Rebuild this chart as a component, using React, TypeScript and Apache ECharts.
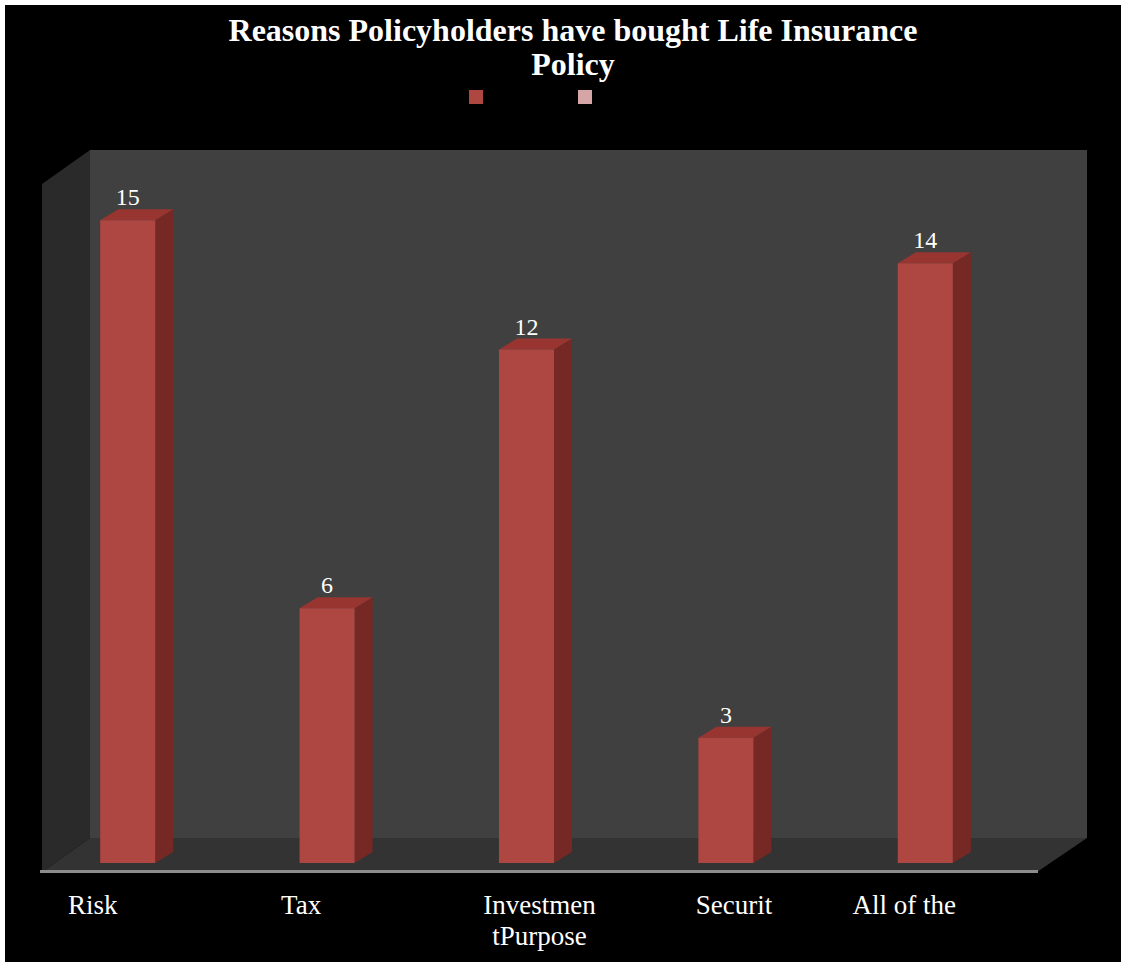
import React, { useEffect, useRef } from "react";
import * as echarts from "echarts";

// ---- data ----
const categories: string[] = ["Risk", "Tax", "Investmen\ntPurpose", "Securit", "All of the"];
const series1Values: number[] = [15, 6, 12, 3, 14];
const series2Values: number[] = [];
const seriesNames: string[] = ["Series1", "Series2"];
const titleText = "Reasons Policyholders have bought Life Insurance\nPolicy";

// ---- styles ----
const FRONT = "#ae4642";
const TOP = "#983531";
const SIDE = "#762824";
const LEGEND2 = "#d6a5a5";
const SERIF = '"Liberation Serif", "Times New Roman", serif';
// horizontal nudge of each category label (padding [t, r, b, l])
const LABEL_PAD: number[][] = [
  [0, 70, 0, 0],
  [0, 52, 0, 0],
  [0, 0, 0, 26],
  [0, 0, 0, 16],
  [0, 42, 0, 0],
];

export default function App() {
  const ref = useRef<HTMLDivElement>(null);
  useEffect(() => {
    if (!ref.current) return;
    const chart = echarts.init(ref.current, null, { renderer: "svg" });
    const option: any = {
      animation: false,
      backgroundColor: "#ffffff",
      title: {
        text: titleText,
        left: 573,
        top: 13,
        padding: 0,
        textAlign: "center",
        textStyle: {
          color: "#ffffff",
          fontFamily: SERIF,
          fontWeight: "bold",
          fontSize: 32,
          lineHeight: 34,
        },
      },
      legend: {
        data: seriesNames,
        left: 469,
        top: 90,
        padding: 0,
        itemWidth: 14,
        itemHeight: 14,
        itemGap: 95,
        icon: "rect",
        formatter: () => "",
        textStyle: { color: "#ffffff", fontSize: 12 },
      },
      graphic: [
        { type: "rect", z: -10, shape: { x: 5, y: 5, width: 1116, height: 957 }, style: { fill: "#000000" } },
        { type: "rect", z: -9, shape: { x: 90, y: 150, width: 997, height: 688 }, style: { fill: "#404040" } },
        {
          type: "polygon",
          z: -9,
          shape: { points: [[42, 184], [90, 150], [90, 838], [42, 872]] },
          style: { fill: "#2a2a2a" },
        },
        {
          type: "polygon",
          z: -9,
          shape: { points: [[42, 872], [90, 838], [1087, 838], [1037, 872]] },
          style: { fill: "#333333" },
        },
        { type: "rect", z: -8, shape: { x: 40, y: 870, width: 998, height: 3 }, style: { fill: "#8c8c8c" } },
      ],
      grid: { left: 28, right: 96, top: 177, bottom: 95, containLabel: false },
      xAxis: {
        type: "category",
        data: categories.map((c, i) => ({
          value: c,
          textStyle: { padding: LABEL_PAD[i] },
        })),
        axisLine: { show: false },
        axisTick: { show: false },
        splitLine: { show: false },
        axisLabel: {
          color: "#ffffff",
          fontFamily: SERIF,
          fontSize: 27,
          lineHeight: 31,
          margin: 22,
          interval: 0,
          verticalAlign: "top",
        },
      },
      yAxis: {
        type: "value",
        min: 0,
        max: 16,
        show: false,
        splitLine: { show: false },
      },
      series: [
        {
          name: seriesNames[0],
          type: "custom",
          itemStyle: { color: FRONT },
          encode: { x: 0, y: 1 },
          data: series1Values.map((v, i) => [i, v]),
          renderItem: (params: any, api: any) => {
            const idx = api.value(0);
            const val = api.value(1);
            const top = api.coord([idx, val]);
            const base = api.coord([idx, 0]);
            const bw = api.size([1, 0])[0] * 0.276;
            const dx = 18;
            const dy = 11;
            const x0 = top[0] - bw / 2;
            const x1 = top[0] + bw / 2;
            const yT = top[1];
            const yB = base[1] - 4;
            return {
              type: "group",
              children: [
                {
                  type: "polygon",
                  shape: { points: [[x1, yT], [x1 + dx, yT - dy], [x1 + dx, yB - dy], [x1, yB]] },
                  style: { fill: SIDE },
                },
                {
                  type: "polygon",
                  shape: { points: [[x0, yT], [x0 + dx, yT - dy], [x1 + dx, yT - dy], [x1, yT]] },
                  style: { fill: TOP },
                },
                {
                  type: "rect",
                  shape: { x: x0, y: yT, width: bw, height: yB - yT },
                  style: { fill: FRONT },
                },
                {
                  type: "text",
                  style: {
                    text: String(val),
                    x: top[0],
                    y: yT - 11,
                    align: "center",
                    verticalAlign: "bottom",
                    fill: "#ffffff",
                    fontFamily: SERIF,
                    fontSize: 24,
                  },
                },
              ],
            };
          },
        },
        {
          name: seriesNames[1],
          type: "bar",
          itemStyle: { color: LEGEND2 },
          data: series2Values,
        },
      ],
    };
    chart.setOption(option);
    return () => chart.dispose();
  }, []);
  return (
    <div
      ref={ref}
      style={{ position: "absolute", left: 0, top: 0, width: 1121, height: 962 }}
    />
  );
}
